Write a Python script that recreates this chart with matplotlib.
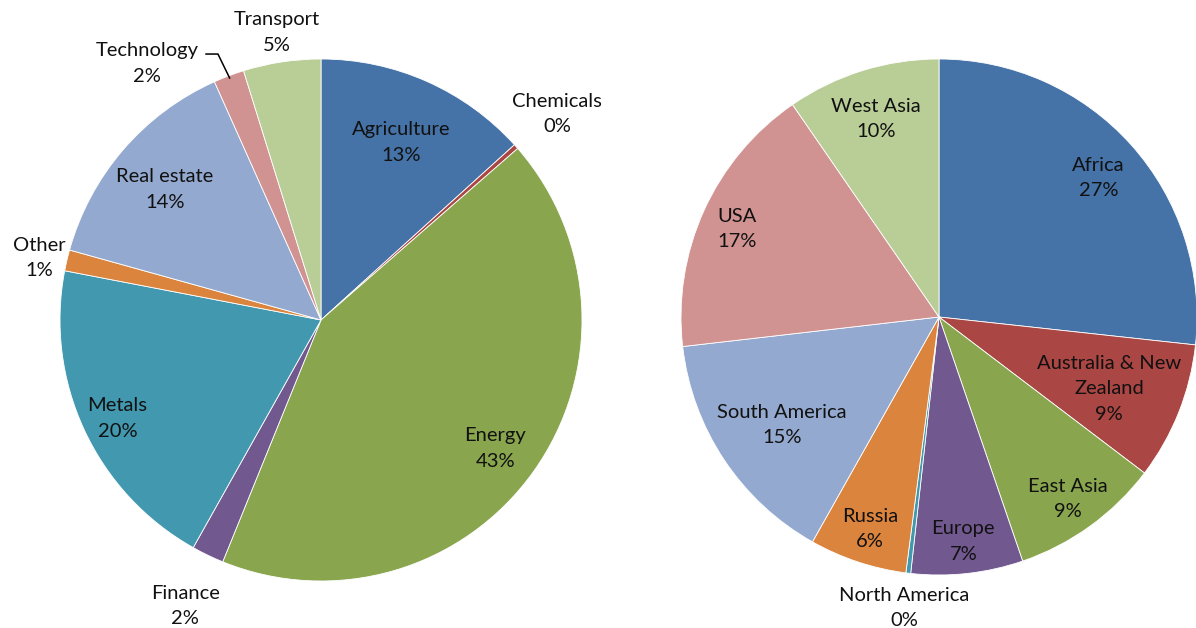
import numpy as np
import matplotlib
matplotlib.use("Agg")
import matplotlib.pyplot as plt

plt.rcParams['font.family'] = ['Lato', 'DejaVu Sans']

# left pie: sectors
sectors = ["Agriculture", "Chemicals", "Energy", "Finance", "Metals",
           "Other", "Real estate", "Technology", "Transport"]
sector_share = [13.3, 0.3, 42.6, 2.0, 19.9, 1.3, 14.0, 1.9, 4.8]

# right pie: regions
regions = ["Africa", "Australia & New\nZealand", "East Asia", "Europe",
           "North America", "Russia", "South America", "USA", "West Asia"]
region_share = [26.7, 8.6, 9.4, 7.0, 0.3, 6.1, 15.0, 17.2, 9.6]

palette = ['#4572A7', '#AA4643', '#89A54E', '#71588F', '#4198AF',
           '#DB843D', '#93A9CF', '#D19392', '#B9CD96']

# label distance from centre (fraction of radius), Excel "best fit" look
sector_lab_r = [0.76, 1.21, 0.82, 1.20, 0.86, 1.11, 0.79, None, 1.13]
region_lab_r = [0.83, 0.71, 0.85, 0.86, 1.12, 0.85, 0.73, 0.86, 0.82]

W, H = 1196, 628
FS = 14.5
LS = 1.6
DY = -4  # text sits a touch lower than matplotlib's box centre
fig = plt.figure(figsize=(W / 100, H / 100), dpi=100)
ax = fig.add_axes([0, 0, 1, 1])


def draw_pie(values, names, lab_r, center, radius):
    wedges, _ = ax.pie(values, colors=palette, startangle=90, counterclock=False,
                       center=center, radius=radius,
                       wedgeprops=dict(edgecolor='white', linewidth=0.6))
    total = sum(values)
    for w, name, v, rf in zip(wedges, names, values, lab_r):
        mid = np.deg2rad((w.theta1 + w.theta2) / 2)
        txt = f"{name}\n{round(v / total * 100):.0f}%"
        if rf is None:
            # leader-line label
            tip = (center[0] + 0.99 * radius * np.cos(mid),
                   center[1] + 0.99 * radius * np.sin(mid))
            a = mid + np.deg2rad(13)
            pos = (center[0] + 1.2 * radius * np.cos(a),
                   center[1] + 1.2 * radius * np.sin(a) + DY)
            ax.annotate(txt, xy=tip, xytext=pos, ha='center', va='center',
                        fontsize=FS, linespacing=LS, color='#111111',
                        arrowprops=dict(arrowstyle='-', color='black', lw=1.1,
                                        relpos=(1.0, 0.72), shrinkA=3, shrinkB=0,
                                        connectionstyle='angle,angleA=0,angleB=116,rad=0'))
        else:
            x = center[0] + rf * radius * np.cos(mid)
            y = center[1] + rf * radius * np.sin(mid) + DY
            ax.text(x, y, txt, ha='center', va='center', fontsize=FS,
                    linespacing=LS, color='#111111')


draw_pie(sector_share, sectors, sector_lab_r, (321, H - 320), 261)
draw_pie(region_share, regions, region_lab_r, (939, H - 317), 258)

ax.set_xlim(0, W)
ax.set_ylim(0, H)
ax.set_aspect('equal')
ax.axis('off')

fig.savefig("out.png", dpi=100, facecolor='white')
